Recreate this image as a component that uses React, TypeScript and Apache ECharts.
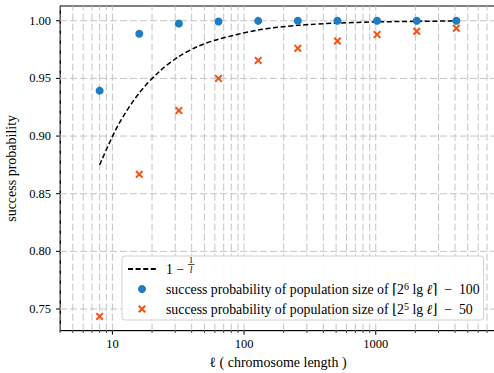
import React, { useEffect, useRef } from "react";
import * as echarts from "echarts";

const lengths = [8, 16, 32, 64, 128, 256, 512, 1024, 2048, 4096];
const probLarge = [0.9394, 0.9887, 0.9976, 0.9994, 0.9999, 1.0, 1.0, 1.0, 1.0, 1.0];
const probSmall = [0.7436, 0.8668, 0.9221, 0.95, 0.9656, 0.9761, 0.9825, 0.988, 0.9909, 0.9935];
const curveLengths = [8, 11, 16, 23, 32, 45, 64, 128, 256, 512, 1024, 2048, 4096];
const curveValues = [0.875, 0.909, 0.9375, 0.9565, 0.969, 0.978, 0.984, 0.992, 0.996, 0.998, 0.999, 0.9995, 0.9998];
const xGridValues = [
  4, 5, 6, 7, 8, 9, 10, 20, 30, 40, 50, 60, 70, 80, 90, 100, 200, 300, 400, 500, 600, 700, 800, 900,
  1000, 2000, 3000, 4000, 5000, 6000, 7000, 8000,
];
const xMajorTicks = [10, 100, 1000];
const yTicks = [0.75, 0.8, 0.85, 0.9, 0.95, 1.0];
const X_MIN = 4;
const X_MAX = 8192;
const Y_MIN = 0.7312;
const Y_MAX = 1.0128;

const NAME_LINE = "1 − 1/l";
const NAME_LARGE = "success probability of population size of ⌈2⁶ lg ℓ⌉ − 100";
const NAME_SMALL = "success probability of population size of ⌊2⁵ lg ℓ⌋ − 50";

const FONT = "Liberation Serif";
const BLUE = "#1c7cc4";
const ORANGE = "#fa5014";
const GRID = "#c4c4c4";
const X_SYMBOL =
  "path://M1.8,0 L5,3.2 L8.2,0 L10,1.8 L6.8,5 L10,8.2 L8.2,10 L5,6.8 L1.8,10 L0,8.2 L3.2,5 L0,1.8 Z";

export default function App() {
  const ref = useRef<HTMLDivElement>(null);
  useEffect(() => {
    if (!ref.current) return;
    const chart = echarts.init(ref.current, undefined, { renderer: "svg" });
    const LF = 13.8;
    const option: any = {
      animation: false,
      backgroundColor: "#fff",
      textStyle: { fontFamily: FONT },
      grid: {
        left: 60,
        top: 6,
        width: 436,
        height: 324.7,
        show: true,
        borderColor: "#000",
        borderWidth: 1,
        backgroundColor: "transparent",
        containLabel: false,
        outerBoundsMode: "none",
      },
      xAxis: {
        type: "log",
        logBase: 10,
        min: X_MIN,
        max: X_MAX,
        name: "ℓ ( chromosome length )",
        nameLocation: "middle",
        nameGap: 24,
        nameTextStyle: { fontFamily: FONT, fontSize: 14, color: "#000" },
        axisLine: { show: true, lineStyle: { color: "#000", width: 1 } },
        axisTick: { show: false },
        splitLine: { show: false },
        minorTick: { show: false },
        minorSplitLine: { show: false },
        axisLabel: {
          fontFamily: FONT,
          fontSize: 12.5,
          color: "#000",
          margin: 7,
          showMinLabel: false,
          showMaxLabel: false,
          formatter: (v: number) => {
            const r = Math.round(v);
            return xMajorTicks.includes(r) ? String(r) : "";
          },
        },
      },
      yAxis: {
        type: "value",
        min: Y_MIN,
        max: Y_MAX,
        splitNumber: 5,
        name: "success probability",
        nameLocation: "middle",
        nameRotate: 90,
        nameGap: 37,
        nameTextStyle: { fontFamily: FONT, fontSize: 14, color: "#000" },
        axisLine: { show: true, lineStyle: { color: "#000", width: 1 } },
        axisTick: { show: false },
        splitLine: { show: false },
        axisLabel: {
          fontFamily: FONT,
          fontSize: 12.5,
          color: "#000",
          margin: 9,
          showMinLabel: false,
          showMaxLabel: false,
          formatter: (v: number) => v.toFixed(2),
        },
      },
      legend: {
        orient: "vertical",
        left: 122,
        top: 256,
        padding: [6, 4, 4, 5],
        itemWidth: 28,
        itemHeight: 8,
        itemGap: 5,
        backgroundColor: "rgba(255,255,255,0.92)",
        borderColor: "#d2d2d2",
        borderWidth: 1,
        borderRadius: 3,
        textStyle: {
          fontFamily: FONT,
          fontSize: LF,
          color: "#000",
          padding: [0, 0, 0, 5],
          rich: {
            t: { fontFamily: FONT, fontSize: LF, color: "#000" },
            sup: { fontFamily: FONT, fontSize: 10, color: "#000", padding: [0, 0, 6, 0] },
            it: { fontFamily: FONT, fontSize: LF, color: "#000", fontStyle: "italic" },
          },
        },
        data: [
          { name: NAME_LINE, itemStyle: { color: "transparent", opacity: 0, borderWidth: 0 } },
          { name: NAME_LARGE },
          { name: NAME_SMALL },
        ],
        formatter: (name: string) => {
          if (name === NAME_LINE) return "{t|1 −}";
          if (name === NAME_LARGE)
            return "{t|success probability of population size of ⌈2}{sup|6}{t| lg }{it|ℓ}{t|⌉  −  100}";
          return "{t|success probability of population size of ⌊2}{sup|5}{t| lg }{it|ℓ}{t|⌋  −  50}";
        },
      },
      graphic: [
        {
          type: "text",
          x: 191,
          y: 264,
          z: 100,
          style: { text: "1", fontFamily: FONT, fontSize: 9, fill: "#000", align: "center", verticalAlign: "bottom" },
        },
        {
          type: "line",
          z: 100,
          shape: { x1: 188, y1: 264.5, x2: 194.5, y2: 264.5 },
          style: { stroke: "#000", lineWidth: 0.7 },
        },
        {
          type: "text",
          x: 191,
          y: 265.3,
          z: 100,
          style: {
            text: "l",
            fontFamily: FONT,
            fontSize: 9.5,
            fontStyle: "italic",
            fill: "#000",
            align: "center",
            verticalAlign: "top",
          },
        },
      ],
      series: [
        {
          type: "custom",
          name: "xgrid",
          silent: true,
          clip: false,
          z: 1,
          data: xGridValues.map((v) => [v, Y_MIN]),
          encode: { x: 0, y: 1 },
          renderItem: (_p: any, api: any) => {
            const v = api.value(0);
            const b = api.coord([v, Y_MIN]);
            const t = api.coord([v, Y_MAX]);
            const major = xMajorTicks.includes(v);
            return {
              type: "group",
              children: [
                {
                  type: "line",
                  shape: { x1: b[0], y1: b[1], x2: t[0], y2: t[1] },
                  style: { stroke: GRID, lineWidth: 1, lineDash: [7, 3] },
                },
                {
                  type: "line",
                  shape: { x1: b[0], y1: b[1], x2: b[0], y2: b[1] + (major ? 4 : 2.2) },
                  style: { stroke: "#000", lineWidth: major ? 1 : 0.8 },
                },
              ],
            };
          },
        },
        {
          type: "custom",
          name: "ygrid",
          silent: true,
          clip: false,
          z: 1,
          data: yTicks.map((v) => [X_MIN, v]),
          encode: { x: 0, y: 1 },
          renderItem: (_p: any, api: any) => {
            const v = api.value(1);
            const l = api.coord([X_MIN, v]);
            const r = api.coord([X_MAX, v]);
            return {
              type: "group",
              children: [
                {
                  type: "line",
                  shape: { x1: l[0], y1: l[1], x2: r[0], y2: r[1] },
                  style: { stroke: GRID, lineWidth: 1, lineDash: [7, 3] },
                },
                {
                  type: "line",
                  shape: { x1: l[0] - 4, y1: l[1], x2: l[0], y2: l[1] },
                  style: { stroke: "#000", lineWidth: 1 },
                },
              ],
            };
          },
        },
        {
          type: "line",
          name: NAME_LINE,
          z: 2,
          data: curveLengths.map((x, i) => [x, curveValues[i]]),
          smooth: 0.3,
          symbol: "none",
          showSymbol: false,
          itemStyle: { color: "#000" },
          lineStyle: { color: "#000", width: 1.5, type: [5, 2.6] },
        },
        {
          type: "scatter",
          name: NAME_LARGE,
          z: 3,
          data: lengths.map((x, i) => [x, probLarge[i]]),
          symbol: "circle",
          symbolSize: 8,
          itemStyle: { color: BLUE, opacity: 1 },
        },
        {
          type: "scatter",
          name: NAME_SMALL,
          z: 4,
          data: lengths.map((x, i) => [x, probSmall[i]]),
          symbol: X_SYMBOL,
          symbolSize: 8,
          itemStyle: { color: ORANGE, opacity: 1 },
        },
      ],
    };
    chart.setOption(option);
    return () => chart.dispose();
  }, []);
  return (
    <div
      ref={ref}
      style={{ position: "fixed", left: 0, top: 0, width: 494, height: 373, background: "#fff" }}
    />
  );
}
